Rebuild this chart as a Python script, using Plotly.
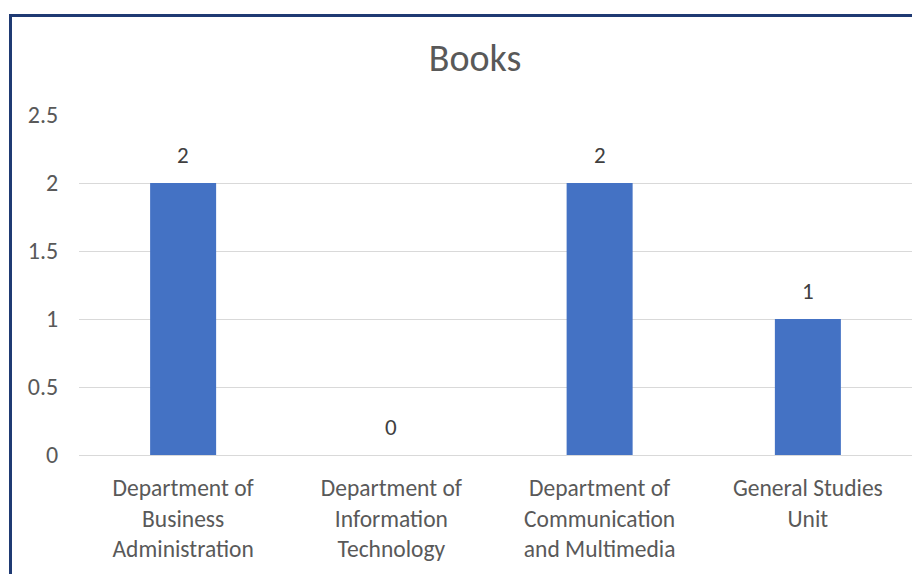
import plotly.graph_objects as go

categories = [
    "Department of<br>Business<br>Administration",
    "Department of<br>Information<br>Technology",
    "Department of<br>Communication<br>and Multimedia",
    "General Studies<br>Unit",
]
books = [2, 0, 2, 1]
y_ticks = [0, 0.5, 1, 1.5, 2, 2.5]
y_tick_labels = ["0", "0.5", "1", "1.5", "2", "2.5"]
title_text = "Books"

FONT = "Calibri, Carlito, Lato, sans-serif"
W, H = 912, 574
ML, MR, MT, MB = 79, 0, 115, 119

fig = go.Figure()
fig.add_trace(go.Bar(
    x=categories, y=books,
    marker=dict(color="#4472C4", line=dict(width=0)),
    hoverinfo="x+y",
))

for c, v in zip(categories, books):
    fig.add_annotation(
        x=c, y=v, xref="x", yref="y", text=str(v), showarrow=False,
        yanchor="middle", yshift=28,
        font=dict(family=FONT, size=23, color="#404040"),
    )

pw = W - ML - MR
ph = H - MT - MB
# navy selection border (top and left)
def px_x(px):
    return (px - ML) / pw
def px_y(py):
    return (H - MB - py) / ph

fig.add_shape(type="line", xref="paper", yref="paper",
              x0=px_x(9), x1=px_x(915), y0=px_y(15.5), y1=px_y(15.5),
              line=dict(color="#1F3A73", width=3))
fig.add_shape(type="line", xref="paper", yref="paper",
              x0=px_x(10.5), x1=px_x(10.5), y0=px_y(14), y1=px_y(580),
              line=dict(color="#1F3A73", width=3))

fig.update_layout(
    width=W, height=H,
    margin=dict(l=ML, r=MR, t=MT, b=MB, pad=0),
    paper_bgcolor="white", plot_bgcolor="white",
    bargap=0.683,
    showlegend=False,
    title=dict(text=title_text, x=475 / W, xref="container", xanchor="center",
               y=1 - 58 / H, yref="container", yanchor="middle",
               font=dict(family=FONT, size=38, color="#595959")),
    font=dict(family=FONT, color="#595959"),
)
fig.update_xaxes(
    showgrid=False, showline=True, linecolor="#D9D9D9", linewidth=1,
    ticks="outside", ticklen=12, tickcolor="rgba(0,0,0,0)",
    tickfont=dict(family=FONT, size=23.5, color="#595959"),
    fixedrange=True,
)
fig.update_yaxes(
    range=[0, 2.5], tickvals=y_ticks, ticktext=y_tick_labels,
    showgrid=True, gridcolor="#D9D9D9", gridwidth=1,
    zeroline=False, showline=False,
    ticks="outside", ticklen=15, tickcolor="rgba(0,0,0,0)",
    tickfont=dict(family=FONT, size=24, color="#595959"),
    fixedrange=True,
)

fig.write_html("out.html", config={"displayModeBar": False},
               post_script="document.body.style.margin='0px';document.body.style.overflow='hidden';")
